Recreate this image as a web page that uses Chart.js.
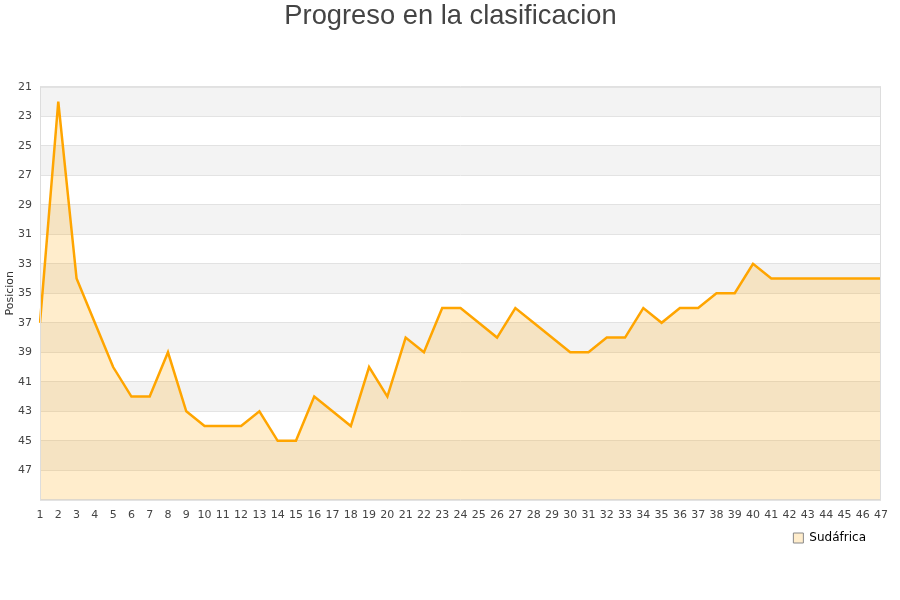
<!DOCTYPE html>
<html>
<head>
<meta charset="utf-8">
<script src="https://cdn.jsdelivr.net/npm/chart.js@4.4.1/dist/chart.umd.min.js"></script>
<style>
  html, body { margin: 0; padding: 0; background: #fff; }
  #wrap { width: 900px; height: 600px; }
</style>
</head>
<body>
<div id="wrap"><canvas id="chartPosicion"></canvas></div>
<script>
// Datos
const jornadas = ['1','2','3','4','5','6','7','8','9','10','11','12','13','14','15','16','17','18','19','20','21','22','23','24','25','26','27','28','29','30','31','32','33','34','35','36','37','38','39','40','41','42','43','44','45','46','47'];
const posiciones = [37,22,34,37,40,42,42,39,43,44,44,44,43,45,45,42,43,44,40,42,38,39,36,36,37,38,36,37,38,39,39,38,38,36,37,36,36,35,35,33,34,34,34,34,34,34,34];
const equipo = 'Sudáfrica';

// Bandas alternas y borde del área
const bandas = {
  id: 'bandas',
  afterLayout(chart) {
    // leyenda algo separada del borde derecho, título centrado en el lienzo
    chart.legend.right -= 6;
    chart.titleBlock.left += 8;
    chart.titleBlock.right += 8;
  },
  beforeDatasetsDraw(chart) {
    const { ctx, chartArea: a, scales: { y } } = chart;
    ctx.save();
    for (let v = 21; v < 49; v += 4) {
      const y1 = y.getPixelForValue(v);
      const y2 = y.getPixelForValue(v + 2);
      ctx.fillStyle = '#f3f3f3';
      ctx.fillRect(a.left, y1, a.right - a.left, y2 - y1);
    }
    ctx.restore();
  },
  afterDraw(chart) {
    const { ctx, chartArea: a } = chart;
    ctx.save();
    ctx.strokeStyle = '#dddddd';
    ctx.lineWidth = 1;
    ctx.strokeRect(a.left + 0.5, a.top + 0.5, a.right - a.left - 1, a.bottom - a.top);
    ctx.restore();
  }
};

new Chart(document.getElementById('chartPosicion'), {
  type: 'line',
  data: {
    labels: jornadas,
    datasets: [{
      label: equipo,
      data: posiciones,
      borderColor: '#ffa500',
      backgroundColor: 'rgba(255, 165, 0, 0.2)',
      borderWidth: 2.5,
      pointRadius: 0,
      tension: 0,
      fill: 'start'
    }]
  },
  options: {
    responsive: true,
    maintainAspectRatio: false,
    animation: false,
    layout: { padding: { left: 4, right: 19, top: 0, bottom: 46 } },
    plugins: {
      title: {
        display: true,
        text: 'Progreso en la clasificacion',
        color: '#444',
        font: { family: 'Liberation Sans', size: 27.3, weight: 'normal' },
        padding: { top: 0, bottom: 54 }
      },
      legend: {
        position: 'bottom',
        align: 'end',
        labels: {
          boxWidth: 10,
          boxHeight: 10,
          color: '#222',
          font: { family: 'DejaVu Sans', size: 12 },
          padding: 9,
          generateLabels: chart => [{
            text: equipo,
            fillStyle: 'rgba(255, 165, 0, 0.2)',
            strokeStyle: '#888',
            lineWidth: 1,
            datasetIndex: 0
          }]
        }
      },
      tooltip: { enabled: false }
    },
    scales: {
      x: {
        offset: false,
        grid: { display: false },
        border: { display: false },
        ticks: {
          autoSkip: false,
          maxRotation: 0,
          color: '#444',
          font: { family: 'DejaVu Sans', size: 11 },
          padding: 1
        }
      },
      y: {
        reverse: true,
        min: 21,
        max: 49,
        grid: { color: '#dddddd', drawTicks: false },
        border: { display: false },
        afterFit: scale => { scale.width = 36; },
        title: {
          display: true,
          text: 'Posicion',
          color: '#333',
          font: { family: 'DejaVu Sans', size: 11 },
          padding: 0
        },
        ticks: {
          stepSize: 2,
          color: '#444',
          font: { family: 'DejaVu Sans', size: 11 },
          padding: 8,
          callback: v => v === 49 ? '' : v
        }
      }
    }
  },
  plugins: [bandas]
});
</script>
</body>
</html>
